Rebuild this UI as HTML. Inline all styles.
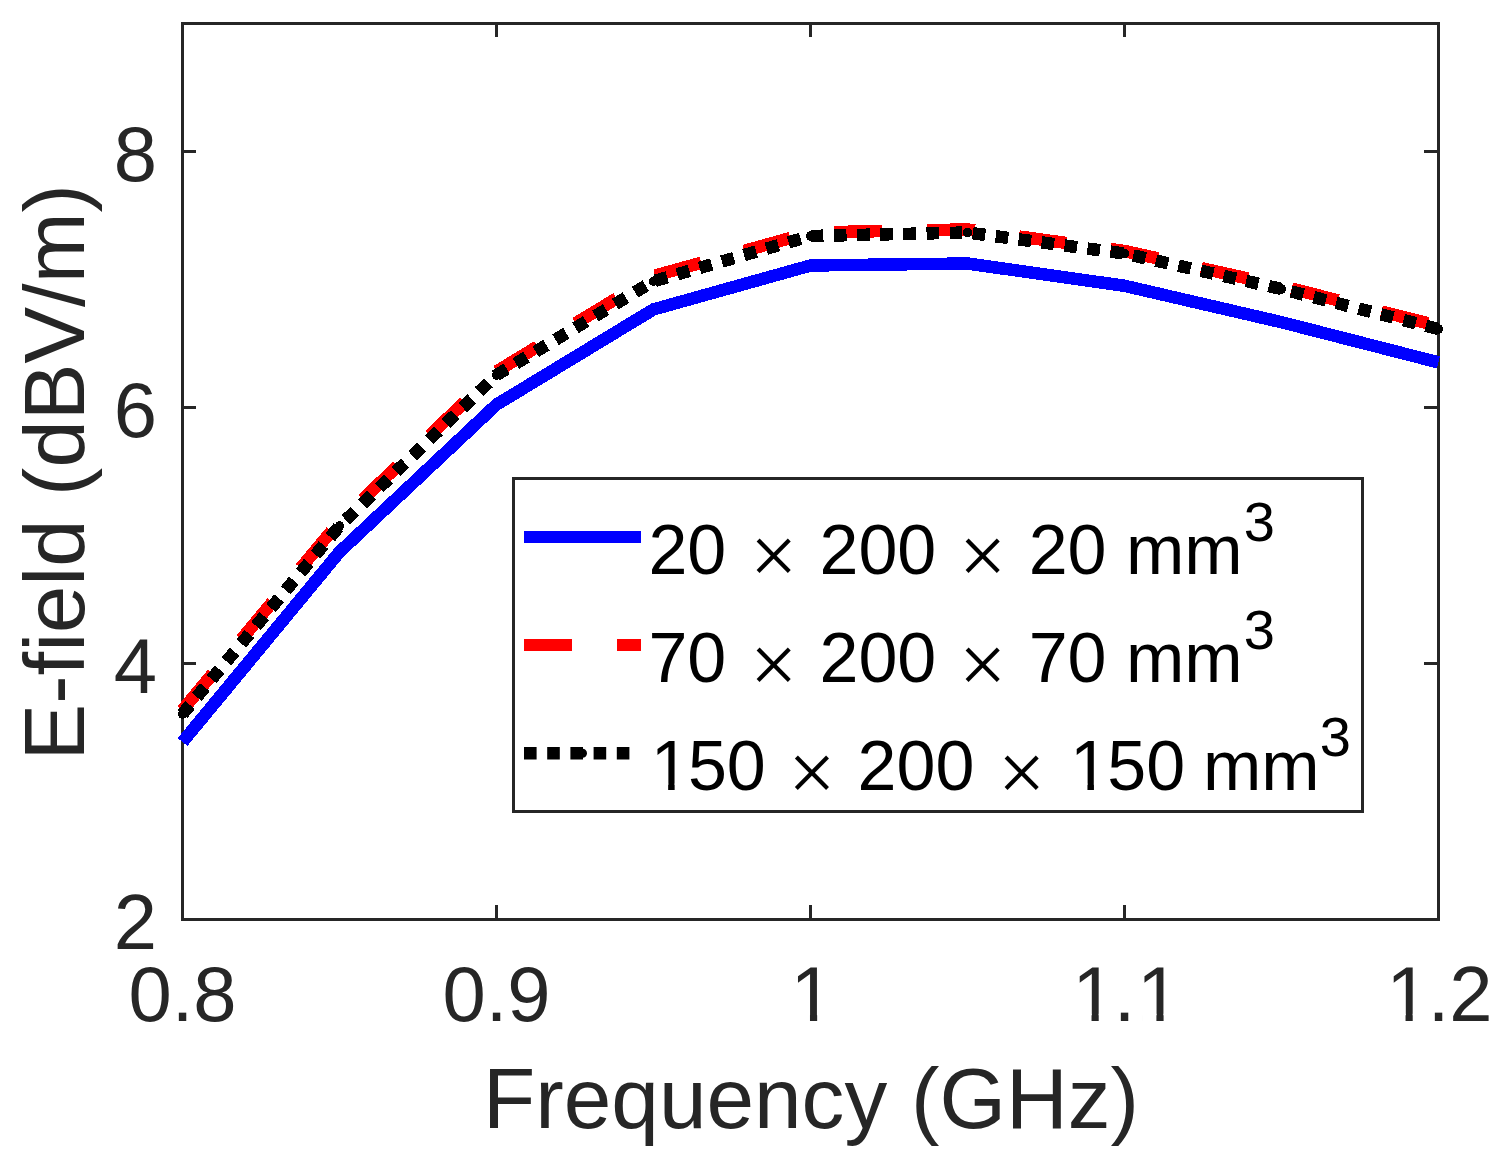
<!DOCTYPE html>
<html><head><meta charset="utf-8"><title>E-field vs Frequency</title>
<style>html,body{margin:0;padding:0;background:#fff;width:1511px;height:1165px;overflow:hidden}svg{display:block}</style>
</head><body>
<svg width="1511" height="1165" viewBox="0 0 1511 1165">
<rect x="0" y="0" width="1511" height="1165" fill="#fff"/>
<g fill="#262626">
<rect x="181" y="22" width="1259" height="3"/>
<rect x="181" y="918" width="1259" height="3"/>
<rect x="181" y="22" width="3" height="899"/>
<rect x="1437" y="22" width="3" height="899"/>
<rect x="181" y="150.0" width="15" height="3"/>
<rect x="1424" y="150.0" width="16" height="3"/>
<rect x="181" y="406.0" width="15" height="3"/>
<rect x="1424" y="406.0" width="16" height="3"/>
<rect x="181" y="662.0" width="15" height="3"/>
<rect x="1424" y="662.0" width="16" height="3"/>
<rect x="495.0" y="905" width="3" height="16"/>
<rect x="495.0" y="22" width="3" height="15"/>
<rect x="809.0" y="905" width="3" height="16"/>
<rect x="809.0" y="22" width="3" height="15"/>
<rect x="1123.0" y="905" width="3" height="16"/>
<rect x="1123.0" y="22" width="3" height="15"/>
</g>
<g font-family="Liberation Sans, Arial, Helvetica, sans-serif" font-size="77.78" fill="#262626">
<text x="157" y="949.3" text-anchor="end">2</text>
<text x="157" y="693.3" text-anchor="end">4</text>
<text x="157" y="437.3" text-anchor="end">6</text>
<text x="157" y="181.3" text-anchor="end">8</text>
<text x="128.44 171.70 193.30" y="1020.8">0.8</text>
<text x="442.44 485.70 507.30" y="1020.8">0.9</text>
<text x="790.57" y="1020.8">1</text>
<text x="1072.14 1113.70 1137.00" y="1020.8">1.1</text>
<text x="1386.14 1427.70 1449.30" y="1020.8">1.2</text>
</g>
<rect x="795.70" y="1013.79" width="14.28" height="7.81" fill="#fff"/><rect x="817.15" y="1013.79" width="13.68" height="7.81" fill="#fff"/><rect x="1077.26" y="1013.79" width="14.28" height="7.81" fill="#fff"/><rect x="1098.72" y="1013.79" width="13.68" height="7.81" fill="#fff"/><rect x="1142.13" y="1013.79" width="14.28" height="7.81" fill="#fff"/><rect x="1163.59" y="1013.79" width="13.68" height="7.81" fill="#fff"/><rect x="1391.26" y="1013.79" width="14.28" height="7.81" fill="#fff"/><rect x="1412.72" y="1013.79" width="13.68" height="7.81" fill="#fff"/>
<text font-family="Liberation Sans, Arial, Helvetica, sans-serif" font-size="85.56" fill="#262626" x="811" y="1127.8" text-anchor="middle">Frequency (GHz)</text>
<text font-family="Liberation Sans, Arial, Helvetica, sans-serif" font-size="85" fill="#262626" transform="translate(84 472.3) rotate(-90)" x="0" y="0" text-anchor="middle">E-field (dBV/m)</text>
<g fill="none" stroke-width="12.5" stroke-linejoin="miter" stroke-linecap="butt" shape-rendering="crispEdges">
<polyline points="182.5,742.0 339.5,552.0 496.5,404.6 653.5,309.4 810.5,265.5 967.5,263.5 1124.5,285.8 1281.5,322.2 1438.5,362.4" stroke="#0000ff"/>
<polyline points="182.5,710.0 339.5,521.5 496.5,371.5 653.5,276.0 810.5,232.5 967.5,229.4 1124.5,251.0 1281.5,286.0 1438.5,326.0" stroke="#ff0000" stroke-dasharray="48 44.6" stroke-dashoffset="0.5"/>
<polyline points="182.5,714.0 339.5,526.0 496.5,375.0 653.5,281.2 810.5,236.0 967.5,232.5 1124.5,253.5 1281.5,289.0 1438.5,329.0" stroke="#000" stroke-dasharray="12.6 10.55" stroke-dashoffset="0.91"/>
</g>
<g fill="#000" shape-rendering="crispEdges"><circle cx="182.5" cy="714.0" r="4.75"/><circle cx="339.5" cy="526.0" r="4.75"/><circle cx="496.5" cy="375.0" r="4.75"/><circle cx="653.5" cy="281.2" r="4.75"/><circle cx="810.5" cy="236.0" r="4.75"/><circle cx="967.5" cy="232.5" r="4.75"/><circle cx="1124.5" cy="253.5" r="4.75"/><circle cx="1281.5" cy="289.0" r="4.75"/><circle cx="1438.5" cy="329.0" r="4.75"/></g>
<rect x="513.5" y="478.5" width="849" height="333" fill="#fff" stroke="#262626" stroke-width="3"/>
<rect x="524" y="531" width="117" height="12" fill="#0000ff"/>
<rect x="524" y="639" width="48" height="12" fill="#ff0000"/>
<rect x="617" y="639" width="24" height="12" fill="#ff0000"/>
<g fill="#000"><rect x="524.0" y="747" width="12.6" height="12.5"/><rect x="547.2" y="747" width="12.6" height="12.5"/><rect x="570.4" y="747" width="12.6" height="12.5"/><rect x="593.6" y="747" width="12.6" height="12.5"/><rect x="616.8" y="747" width="12.6" height="12.5"/><circle cx="582.5" cy="753.2" r="4.5"/></g>
<g font-family="Liberation Sans, Arial, Helvetica, sans-serif" font-size="70.0" fill="#000">
<text x="648.4" y="573.5">20</text>
<text x="819.5" y="573.5">200</text>
<text x="1028.7" y="573.5">20</text>
<text x="1126" y="573.5">mm</text>
<text x="750.1" y="584.3" font-size="83.8" font-family="Liberation Serif, serif">×</text>
<text x="958.9" y="584.3" font-size="83.8" font-family="Liberation Serif, serif">×</text>
<text x="1243.7" y="540.5" font-size="56">3</text>
</g>
<g font-family="Liberation Sans, Arial, Helvetica, sans-serif" font-size="70.0" fill="#000">
<text x="648.4" y="682.2">70</text>
<text x="819.5" y="682.2">200</text>
<text x="1028.7" y="682.2">70</text>
<text x="1126" y="682.2">mm</text>
<text x="750.1" y="693.0" font-size="83.8" font-family="Liberation Serif, serif">×</text>
<text x="958.9" y="693.0" font-size="83.8" font-family="Liberation Serif, serif">×</text>
<text x="1243.7" y="648.6" font-size="56">3</text>
</g>
<g font-family="Liberation Sans, Arial, Helvetica, sans-serif" font-size="70.0" fill="#000">
<text x="650.70 687.93 726.86" y="790.0">150</text>
<text x="857.6" y="790.0">200</text>
<text x="1070.00 1107.23 1146.16" y="790.0">150</text>
<text x="1203" y="790.0">mm</text>
<text x="788.3" y="800.8" font-size="83.8" font-family="Liberation Serif, serif">×</text>
<text x="998.0" y="800.8" font-size="83.8" font-family="Liberation Serif, serif">×</text>
<text x="1319.8" y="756.4" font-size="56">3</text>
</g>
<rect x="655.23" y="783.57" width="12.92" height="7.23" fill="#fff"/><rect x="674.64" y="783.57" width="12.37" height="7.23" fill="#fff"/>
<rect x="1074.53" y="783.57" width="12.92" height="7.23" fill="#fff"/><rect x="1093.94" y="783.57" width="12.37" height="7.23" fill="#fff"/>
</svg>
</body></html>
